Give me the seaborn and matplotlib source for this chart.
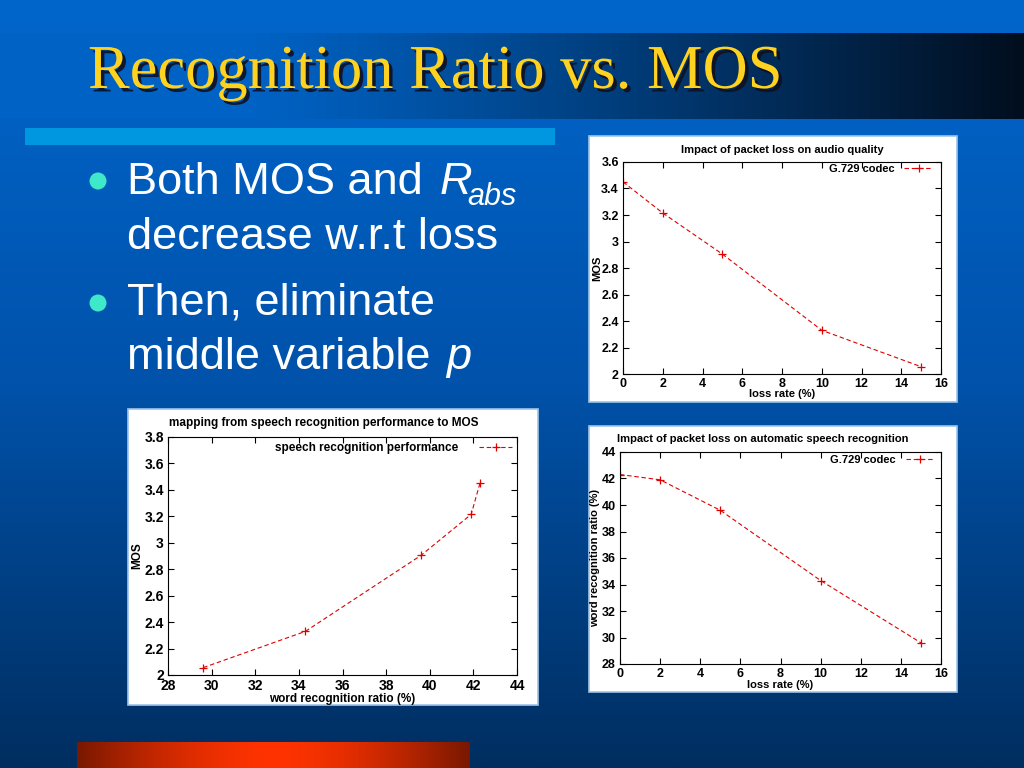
import numpy as np
import matplotlib
matplotlib.use("Agg")
import matplotlib.pyplot as plt
import seaborn as sns
from matplotlib.patches import Rectangle, Circle
from matplotlib.ticker import FuncFormatter, MultipleLocator
import matplotlib.patheffects as pe

# ---------------- data ----------------
loss_rate = [0, 2, 5, 10, 15]
mos = [3.45, 3.215, 2.905, 2.33, 2.055]
word_recognition = [42.3, 41.9, 39.6, 34.3, 29.6]

title_text = "Recognition Ratio vs. MOS"
chart1_title = "Impact of packet loss on audio quality"
chart2_title = "mapping from speech recognition performance to MOS"
chart3_title = "Impact of packet loss on automatic speech recognition"
legend_codec = "G.729 codec"
legend_speech = "speech recognition performance"

plt.rcParams['font.family'] = ['Liberation Sans', 'DejaVu Sans']

W, H = 1024, 768
fig = plt.figure(figsize=(10.24, 7.68), dpi=100)

# ---------------- slide background ----------------
bg = fig.add_axes([0, 0, 1, 1])
bg.set_xlim(0, W)
bg.set_ylim(H, 0)
bg.axis('off')

ys = np.linspace(0, 1, 256)[:, None]
top_c = np.array([0, 102, 204]) / 255
mid_c = np.array([0, 82, 170]) / 255
bot_c = np.array([0, 46, 96]) / 255
grad = np.where(ys < 0.5, top_c + (mid_c - top_c) * (ys / 0.5),
                mid_c + (bot_c - mid_c) * ((ys - 0.5) / 0.5))
grad = grad[:, None, :].repeat(2, axis=1).reshape(256, 2, 3)
bg.imshow(grad, extent=[0, W, H, 0], aspect='auto', zorder=0)

# title band (horizontal gradient to black)
xs = np.linspace(0, 1, 512)
left_c = np.array([0, 98, 196]) / 255
right_c = np.array([2, 14, 30]) / 255
t = np.clip((xs - 0.25) / 0.75, 0, 1) ** 1.1
band = left_c + (right_c - left_c) * t[:, None]
band = band[None, :, :].repeat(2, axis=0)
bg.imshow(band, extent=[0, W, 119, 33], aspect='auto', zorder=1)

# light blue bar
bg.add_patch(Rectangle((25, 128), 530, 17, fc='#0096e0', ec='none', zorder=2))

# bottom orange bar
xo = np.linspace(-1, 1, 512)
dark = np.array([120, 24, 0]) / 255
bright = np.array([255, 51, 0]) / 255
tt = 1 - np.abs(xo) ** 1.6
orange = dark + (bright - dark) * tt[:, None]
orange = orange[None, :, :].repeat(2, axis=0)
bg.imshow(orange, extent=[77, 470, 768, 742], aspect='auto', zorder=2)

# title
bg.text(88, 88, title_text, family='Liberation Serif', fontsize=45,
        color='#ffd21f', va='baseline', ha='left', zorder=5,
        path_effects=[pe.withSimplePatchShadow(offset=(2.5, -2.5), shadow_rgbFace='#101020', alpha=0.9)])

# bullets
txt_kw = dict(color='white', fontsize=32.5, va='baseline', ha='left', zorder=5)
bg.add_patch(Circle((98, 181), 8.5, fc='#3ee8c8', ec='none', zorder=5))
bg.add_patch(Circle((98, 303), 8.5, fc='#3ee8c8', ec='none', zorder=5))
bg.text(127, 194, "Both MOS and", **txt_kw)
bg.text(440, 194, "R", style='italic', **txt_kw)
bg.text(467, 205, "abs", style='italic', color='white', fontsize=22, va='baseline', ha='left', zorder=5)
bg.text(127, 249, "decrease w.r.t loss", **txt_kw)
bg.text(127, 314, "Then, eliminate", **txt_kw)
bg.text(127, 369, "middle variable", **txt_kw)
bg.text(446, 369, "p", style='italic', **txt_kw)

# white chart boxes
for (x0, y0, w, h) in [(589, 136, 368, 266), (128, 409, 410, 296), (589, 426, 368, 266)]:
    bg.add_patch(Rectangle((x0, y0), w, h, fc='white', ec='#9ec4e8', lw=1.2, zorder=3))


def ax_at(left, top, right, bottom):
    return fig.add_axes([left / W, 1 - bottom / H, (right - left) / W, (bottom - top) / H])


fmt = FuncFormatter(lambda v, p: f"{v:g}")
line_kw = dict(color='#e00000', marker='+', markersize=6, markeredgecolor='#e00000',
               markeredgewidth=0.9, linewidth=0.8, linestyle=(0, (4, 2.5)), sort=False)


def style_axes(ax, xlim, xstep, ylim, ystep, fs=9):
    ax.set_facecolor('white')
    ax.set_xlim(*xlim)
    ax.set_ylim(*ylim)
    ax.xaxis.set_major_locator(MultipleLocator(xstep))
    ax.yaxis.set_major_locator(MultipleLocator(ystep))
    ax.xaxis.set_major_formatter(fmt)
    ax.yaxis.set_major_formatter(fmt)
    ax.tick_params(direction='in', length=4.5, width=0.8, top=True, right=True,
                   labelsize=fs, pad=3, colors='black')
    for lbl in ax.get_xticklabels() + ax.get_yticklabels():
        lbl.set_fontweight('bold')
    for s in ax.spines.values():
        s.set_linewidth(0.8)
        s.set_color('black')
    ax.grid(False)


# ---------------- chart 1 ----------------
ax1 = ax_at(623, 162, 941, 374)
sns.lineplot(x=loss_rate, y=mos, ax=ax1, label=legend_codec, **line_kw)
style_axes(ax1, (0, 16), 2, (2, 3.6), 0.2, fs=9)
ax1.set_title(chart1_title, fontsize=8, fontweight='bold', y=1.042, pad=0)
ax1.set_xlabel("loss rate (%)", fontsize=8, fontweight='bold')
ax1.set_ylabel("MOS", fontsize=8, fontweight='bold')
ax1.xaxis.set_label_coords(0.5, -0.072)
ax1.yaxis.set_label_coords(-0.066, 0.5)
ax1.legend(loc='upper right', bbox_to_anchor=(0.975, 0.99), frameon=False, markerfirst=False,
           prop={'size': 8, 'weight': 'bold'}, handlelength=2.6, handletextpad=0.9,
           borderpad=0, borderaxespad=0)

# ---------------- chart 2 ----------------
ax2 = ax_at(168, 437, 517, 675)
sns.lineplot(x=word_recognition, y=mos, ax=ax2, label=legend_speech, **line_kw)
style_axes(ax2, (28, 44), 2, (2, 3.8), 0.2, fs=10)
ax2.set_title(chart2_title, fontsize=8.5, fontweight='bold', y=1.046, x=0.447, pad=0)
ax2.set_xlabel("word recognition ratio (%)", fontsize=8.5, fontweight='bold')
ax2.set_ylabel("MOS", fontsize=8.5, fontweight='bold')
ax2.xaxis.set_label_coords(0.5, -0.077)
ax2.yaxis.set_label_coords(-0.07, 0.5)
ax2.legend(loc='upper right', bbox_to_anchor=(0.986, 0.979), frameon=False, markerfirst=False,
           prop={'size': 8.5, 'weight': 'bold'}, handlelength=2.8, handletextpad=1.8,
           borderpad=0, borderaxespad=0)

# ---------------- chart 3 ----------------
ax3 = ax_at(620, 452, 941, 664)
sns.lineplot(x=loss_rate, y=word_recognition, ax=ax3, label=legend_codec, **line_kw)
style_axes(ax3, (0, 16), 2, (28, 44), 2, fs=9)
ax3.set_title(chart3_title, fontsize=8, fontweight='bold', y=1.047, x=0.445, pad=0)
ax3.set_xlabel("loss rate (%)", fontsize=8, fontweight='bold')
ax3.set_ylabel("word recognition ratio (%)", fontsize=8, fontweight='bold')
ax3.xaxis.set_label_coords(0.5, -0.077)
ax3.yaxis.set_label_coords(-0.062, 0.5)
ax3.legend(loc='upper right', bbox_to_anchor=(0.975, 0.986), frameon=False, markerfirst=False,
           prop={'size': 8, 'weight': 'bold'}, handlelength=2.4, handletextpad=1.0,
           borderpad=0, borderaxespad=0)

fig.savefig("out.png", dpi=100)
